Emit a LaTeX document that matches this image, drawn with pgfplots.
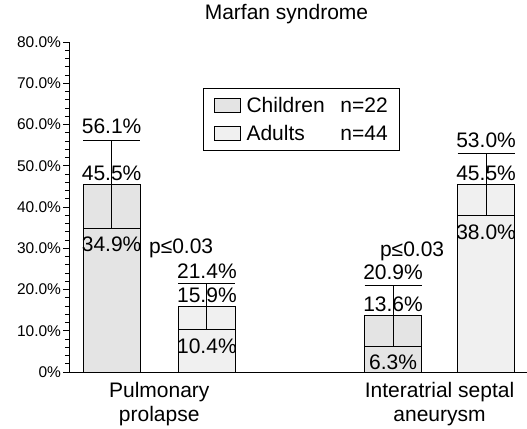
\documentclass[border=0pt]{standalone}
\usepackage{pgfplots}
\pgfplotsset{compat=1.18}
\usepackage{pgfplotstable}
\usepackage{fontspec}
\setmainfont{Liberation Sans}
\definecolor{childfill}{HTML}{E4E4E4}
\definecolor{adultfill}{HTML}{F0F0F0}
\pgfkeys{/pgf/number format/assume math mode=true}

\pgfplotstableread{
x y lo hi
0.830 45.5 34.9 56.1
1.834 13.6 6.3 20.9
}\children
\pgfplotstableread{
x y lo hi
1.170 15.9 10.4 21.4
2.166 45.5 38.0 53.0
}\adults

\newcommand{\valfont}{\fontsize{21bp}{24bp}\selectfont}
\newcommand{\vallabel}{\pgfmathprintnumber[fixed,fixed zerofill,precision=1,assume math mode=true]{\pgfplotspointmeta}\%}

\begin{document}
\begin{tikzpicture}
\path[use as bounding box] (0bp,0bp) rectangle (527bp,-429bp);
\node[font=\valfont] at (286.5bp,-14bp) {Marfan syndrome};
\begin{axis}[
  at={(69bp,-372bp)}, anchor=south west,
  scale only axis, width=458bp, height=330bp,
  xmin=0.678, xmax=2.312, ymin=0, ymax=80,
  clip=false,
  axis x line=bottom, axis y line=left,
  axis line style={-, line width=1bp, black},
  xtick={1,2},
  xticklabels={{Pulmonary\\prolapse},{Interatrial septal\\aneurysm}},
  xticklabel style={align=center, font=\valfont, yshift=-1bp},
  x tick style={draw=none},
  ytick={0,10,...,80},
  yticklabels={0\%,10.0\%,20.0\%,30.0\%,40.0\%,50.0\%,60.0\%,70.0\%,80.0\%},
  yticklabel style={font=\fontsize{15.5bp}{18bp}\selectfont, xshift=1.5bp},
  minor y tick num=4,
  tick align=outside,
  major tick length=6bp, minor tick length=4bp,
  y tick style={line width=1bp, black},
  legend style={at={(rel axis cs:0.2926,0.8606)}, anchor=north west,
    draw=black, line width=1bp, font=\valfont, inner xsep=10bp, inner ysep=7bp,
    row sep=7bp, cells={anchor=west}},
  legend image code/.code={\draw[#1, line width=1bp] (0bp,-7bp) rectangle (26bp,7bp);},
]
\addplot[ybar, bar width=57bp, bar shift=0pt, fill=childfill, draw=black, line width=1bp,
  point meta=y, nodes near coords=\vallabel,
  every node near coord/.append style={font=\valfont, black},
  error bars/.cd, y dir=both, y explicit, error mark=|,
  error bar style={line width=1bp, black},
  error mark options={mark size=28.5bp, line width=1bp, black}]
  table[x=x, y=y, y error plus expr=\thisrow{hi}-\thisrow{y}, y error minus expr=\thisrow{y}-\thisrow{lo}] {\children};
\addlegendentry{\hspace{4bp}\makebox[94bp][l]{Children}n=22\hspace{16bp}}
\addplot[ybar, bar width=57bp, bar shift=0pt, fill=adultfill, draw=black, line width=1bp,
  point meta=y, nodes near coords=\vallabel,
  every node near coord/.append style={font=\valfont, black},
  error bars/.cd, y dir=both, y explicit, error mark=|,
  error bar style={line width=1bp, black},
  error mark options={mark size=28.5bp, line width=1bp, black}]
  table[x=x, y=y, y error plus expr=\thisrow{hi}-\thisrow{y}, y error minus expr=\thisrow{y}-\thisrow{lo}] {\adults};
\addlegendentry{\hspace{4bp}\makebox[94bp][l]{Adults}n=44\hspace{16bp}}
% upper CI labels
\addplot[draw=none, mark=none, forget plot, point meta=y, nodes near coords=\vallabel,
  nodes near coords align=above,
  every node near coord/.append style={font=\valfont, black, yshift=3bp}]
  table[x=x, y=hi] {\children};
\addplot[draw=none, mark=none, forget plot, point meta=y, nodes near coords=\vallabel,
  nodes near coords align=above,
  every node near coord/.append style={font=\valfont, black, yshift=2bp}]
  table[x=x, y=hi] {\adults};
% lower CI labels
\addplot[draw=none, mark=none, forget plot, point meta=y, nodes near coords=\vallabel,
  nodes near coords align=below,
  every node near coord/.append style={font=\valfont, black, yshift=-5bp}]
  table[x=x, y=lo] {\children};
\addplot[draw=none, mark=none, forget plot, point meta=y, nodes near coords=\vallabel,
  nodes near coords align=below,
  every node near coord/.append style={font=\valfont, black, yshift=-6bp}]
  table[x=x, y=lo] {\adults};
\node[font=\valfont] at (axis cs:1.078,30.0) {p≤0.03};
\node[font=\valfont] at (axis cs:1.902,29.3) {p≤0.03};
\end{axis}
\end{tikzpicture}
\end{document}
